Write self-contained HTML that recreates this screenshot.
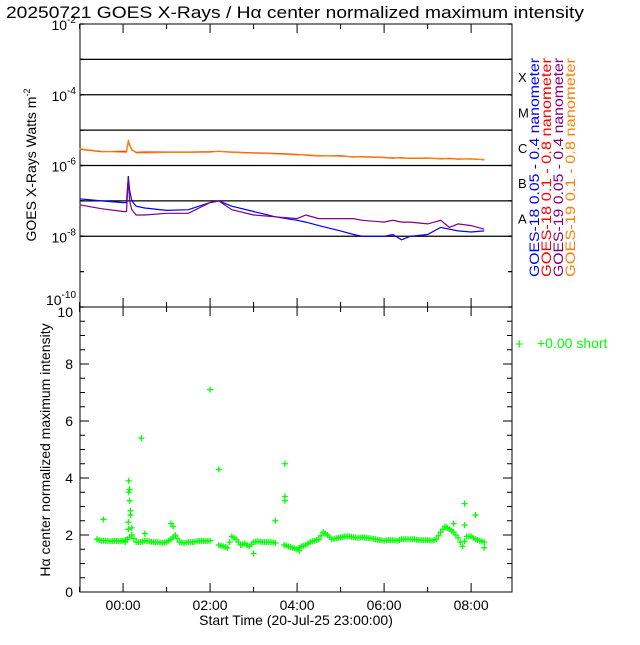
<!DOCTYPE html>
<html><head><meta charset="utf-8"><style>
body{margin:0;background:#fff;}
svg text{font-family:"Liberation Sans","DejaVu Sans",sans-serif;}
</style></head><body>
<svg id="c" width="640" height="640" viewBox="0 0 640 640" xmlns="http://www.w3.org/2000/svg">
<text x="6" y="18" font-size="17" textLength="578" lengthAdjust="spacingAndGlyphs">20250721 GOES X-Rays / Hα center normalized maximum intensity</text>
<g id="topPanel"></g>
<g id="botPanel"></g>
<text transform="translate(36,165) rotate(-90)" text-anchor="middle" font-size="14">GOES X-Rays Watts m<tspan dy="-6" font-size="9">-2</tspan></text>
<text transform="translate(50,450) rotate(-90)" text-anchor="middle" font-size="14">Hα center normalized maximum intensity</text>
<text x="296" y="625" text-anchor="middle" font-size="14">Start Time (20-Jul-25 23:00:00)</text>
<g font-size="14">
<text transform="translate(539,277) rotate(-90)" fill="#0000ff" textLength="219" lengthAdjust="spacingAndGlyphs">GOES-18 0.05 - 0.4 nanometer</text>
<text transform="translate(551,277) rotate(-90)" fill="#ff0000" textLength="219" lengthAdjust="spacingAndGlyphs">GOES-18 0.1 - 0.8 nanometer</text>
<text transform="translate(563,277) rotate(-90)" fill="#800080" textLength="219" lengthAdjust="spacingAndGlyphs">GOES-19 0.05 - 0.4 nanometer</text>
<text transform="translate(575,277) rotate(-90)" fill="#ff8000" textLength="219" lengthAdjust="spacingAndGlyphs">GOES-19 0.1 - 0.8 nanometer</text>
</g>
<g fill="#00ff00">
<text x="515" y="349" font-size="15">+</text>
<text x="537" y="348" font-size="14">+0.00 short</text>
</g>
</svg>
<script>
const goesTimes=[-1,-0.5,0,0.08,0.12,0.15,0.2,0.3,0.5,1,1.5,2,2.2,2.5,3,3.5,4,4.2,4.5,5,5.3,5.5,6,6.2,6.4,6.6,7,7.3,7.5,7.7,8,8.3];
const goes19Long=[-5.53,-5.6,-5.62,-5.62,-5.3,-5.4,-5.55,-5.64,-5.64,-5.63,-5.63,-5.62,-5.6,-5.63,-5.65,-5.67,-5.7,-5.7,-5.72,-5.74,-5.75,-5.76,-5.78,-5.78,-5.79,-5.79,-5.8,-5.8,-5.81,-5.81,-5.82,-5.83];
const goes18Long=[-5.54,-5.61,-5.6,-5.6,-5.32,-5.42,-5.56,-5.63,-5.62,-5.62,-5.62,-5.61,-5.6,-5.62,-5.64,-5.66,-5.69,-5.71,-5.73,-5.73,-5.76,-5.75,-5.77,-5.79,-5.78,-5.8,-5.79,-5.81,-5.8,-5.82,-5.81,-5.84];
const goes18Short=[-6.94,-7.0,-7.05,-7.05,-6.3,-6.7,-7.0,-7.15,-7.2,-7.27,-7.25,-7.05,-7.0,-7.15,-7.3,-7.45,-7.55,-7.6,-7.7,-7.85,-7.95,-8.0,-8.0,-7.95,-8.1,-8.0,-7.95,-7.75,-7.8,-7.85,-7.88,-7.85];
const goes19Short=[-7.11,-7.22,-7.3,-7.3,-6.35,-7.0,-7.25,-7.4,-7.4,-7.35,-7.35,-7.05,-7.0,-7.25,-7.4,-7.45,-7.5,-7.4,-7.5,-7.5,-7.5,-7.55,-7.6,-7.55,-7.6,-7.6,-7.65,-7.55,-7.75,-7.65,-7.7,-7.8];
const haTimes=[-0.6,-0.5,-0.4,-0.3,-0.2,-0.1,0,0.1,0.2,0.3,0.4,0.5,0.6,0.7,0.8,0.9,1.0,1.1,1.2,1.3,1.4,1.5,1.6,1.7,1.8,1.9,2.0,2.2,2.3,2.4,2.5,2.6,2.7,2.8,2.9,3.0,3.1,3.2,3.3,3.4,3.5,3.7,3.8,3.9,4.0,4.1,4.2,4.3,4.4,4.5,4.6,4.7,4.8,4.9,5.0,5.1,5.2,5.3,5.4,5.5,5.6,5.7,5.8,5.9,6.0,6.1,6.2,6.3,6.4,6.5,6.6,6.7,6.8,6.9,7.0,7.1,7.2,7.3,7.4,7.5,7.6,7.7,7.8,7.9,8.0,8.1,8.2,8.3];
const haValues=[1.85,1.8,1.8,1.78,1.8,1.78,1.8,1.85,2.0,1.75,1.75,1.8,1.78,1.75,1.75,1.72,1.75,1.85,2.0,1.75,1.72,1.75,1.75,1.78,1.8,1.78,1.8,1.65,1.6,1.55,1.95,1.85,1.65,1.7,1.6,1.75,1.78,1.75,1.75,1.75,1.72,1.65,1.6,1.55,1.5,1.6,1.65,1.75,1.8,1.85,2.1,2.0,1.85,1.88,1.92,1.95,1.95,1.92,1.9,1.92,1.9,1.88,1.85,1.82,1.8,1.82,1.82,1.8,1.85,1.85,1.85,1.85,1.82,1.82,1.82,1.8,1.85,2.1,2.3,2.2,2.1,1.9,1.6,1.95,1.95,1.85,1.8,1.75];
const haOutT=[-0.45,0.13,0.15,0.13,0.15,0.17,0.17,0.12,0.12,0.2,0.42,0.5,1.1,2.0,2.2,3.0,3.5,3.72,3.72,3.72,7.6,7.85,7.85,8.1,8.3,0.05,1.15,4.05,7.45];
const haOutV=[2.55,3.9,3.6,3.5,3.2,2.85,2.7,2.45,2.2,2.25,5.4,2.05,2.4,7.1,4.3,1.35,2.5,4.5,3.35,3.2,2.4,3.1,2.35,2.7,1.55,1.75,2.3,1.45,2.25];
const xTicks=[-1,0,1,2,3,4,5,6,7,8];
const xLabels=["00:00","02:00","04:00","06:00","08:00"];
const xLabelHours=[0,2,4,6,8];
const goesDecades=[-2,-3,-4,-5,-6,-7,-8,-9,-10];
const goesClass=["X","M","C","B","A"];
const haTicks=[0,2,4,6,8,10];

(function(){
const NS="http://www.w3.org/2000/svg";
const L=80,R=512,T1=24,B1=307,T2=307,B2=592;
const X0=-0.99,X1=8.94;
function sx(h){return L+(h-X0)/(X1-X0)*(R-L);}
function sy1(lg){return T1+(-2-lg)/8*(B1-T1);}
function sy2(v){return B2-v/10*(B2-T2);}
function mk(tag,at,parent){const e=document.createElementNS(NS,tag);for(const k in at)e.setAttribute(k,at[k]);parent.appendChild(e);return e;}
const tp=document.getElementById('topPanel'),bp=document.getElementById('botPanel');

goesDecades.forEach(d=>{
  const y=sy1(d);
  if(d<-2&&d>-9){const g=mk('line',{x1:L,x2:R,y1:y,y2:y,stroke:'#000','stroke-width':1.3},tp);
    
    }
  mk('line',{x1:L,x2:L+4,y1:y,y2:y,stroke:'#000','stroke-width':1.3},tp);
  mk('line',{x1:R,x2:R-4,y1:y,y2:y,stroke:'#000','stroke-width':1.3},tp);
  if(d%2===0){
    const yy=d===-10?y-2:y+6;
    const t=mk('text',{x:L-4,y:yy,'text-anchor':'end','font-size':14},tp);
    
    
    t.textContent='10';const s=mk('tspan',{dy:-7,'font-size':10},t);s.textContent=String(d);}
});
goesClass.forEach((c,i)=>{
  const y=(sy1(-3-i)+sy1(-4-i))/2;
  const t=mk('text',{x:R+6,y:y+5,'font-size':13},tp);
  
  
  t.textContent=c;
});
const f1=mk('rect',{x:L,y:T1,width:R-L,height:B1-T1,fill:'none',stroke:'#000','stroke-width':1},tp);


xTicks.forEach(h=>{const x=sx(h);const len=h%2===0?9:5;
  mk('line',{x1:x,x2:x,y1:B1,y2:B1-len,stroke:'#000'},tp);
  mk('line',{x1:x,x2:x,y1:T1,y2:T1+len,stroke:'#000'},tp);
  mk('line',{x1:x,x2:x,y1:B2,y2:B2-len,stroke:'#000'},bp);
  mk('line',{x1:x,x2:x,y1:T2,y2:T2+len,stroke:'#000'},bp);
});
function series(vals,color,name){
  const p=goesTimes.map((t,i)=>sx(t).toFixed(1)+','+sy1(vals[i]).toFixed(1)).join(' ');
  const e=mk('polyline',{points:p,fill:'none',stroke:color,'stroke-width':1.2},tp);
  
  
}
series(goes18Short,'#0000ff','goes18-short-line');
series(goes19Short,'#800080','goes19-short-line');
series(goes18Long,'#ff0000','goes18-long-line');
series(goes19Long,'#ff8000','goes19-long-line');

const f2=mk('rect',{x:L,y:T2,width:R-L,height:B2-T2,fill:'none',stroke:'#000','stroke-width':1},bp);


for(let v=0;v<=10;v+=0.5){const y=sy2(v);const len=v%2===0?9:5;
  mk('line',{x1:L,x2:L+len,y1:y,y2:y,stroke:'#000'},bp);
  mk('line',{x1:R,x2:R-len,y1:y,y2:y,stroke:'#000'},bp);}
haTicks.forEach(v=>{const t=mk('text',{x:L-7,y:sy2(v)+(v===10?10:5),'text-anchor':'end','font-size':14},bp);
  
  
  t.textContent=String(v);});
xLabels.forEach((s,i)=>{const t=mk('text',{x:sx(xLabelHours[i]),y:610,'text-anchor':'middle','font-size':14},bp);
  
  
  t.textContent=s;});
function plus(h,v){const x=sx(h),y=sy2(v);
  const g=mk('path',{d:`M${x-3},${y}H${x+3}M${x},${y-3}V${y+3}`,stroke:'#00ff00','stroke-width':1.3,fill:'none'},bp);
  
  }
haTimes.forEach((t,i)=>{plus(t,haValues[i]);if(i<haTimes.length-1&&haTimes[i+1]-t<0.15)plus(t+0.05,(haValues[i]+haValues[i+1])/2);});
haOutT.forEach((t,i)=>plus(t,haOutV[i]));
})();
</script>
</body></html>
